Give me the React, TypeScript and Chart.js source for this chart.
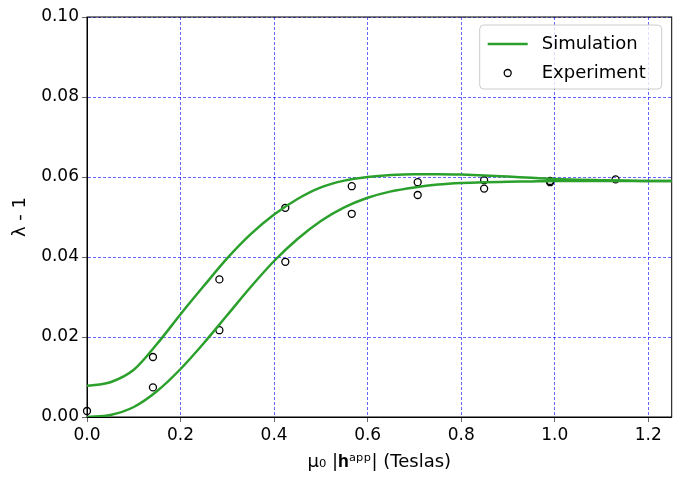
import { useEffect, useRef } from "react";
import Chart from "chart.js/auto";

const simX = [0, 0.05, 0.1, 0.15, 0.2, 0.25, 0.3, 0.35, 0.4, 0.45, 0.5, 0.55, 0.6, 0.65, 0.7, 0.75, 0.8, 0.85, 0.9, 0.95, 1.0, 1.05, 1.1, 1.15, 1.2, 1.25];
const simUpper = [0.0078, 0.0087, 0.0118, 0.0183, 0.0257, 0.0328, 0.0397, 0.0457, 0.0506, 0.0545, 0.0574, 0.0591, 0.06, 0.0605, 0.0607, 0.0607, 0.0606, 0.0604, 0.0601, 0.0598, 0.0595, 0.0593, 0.0592, 0.0591, 0.059, 0.059];
const simLower = [0, 0.0005, 0.0025, 0.0065, 0.012, 0.0185, 0.0255, 0.0325, 0.039, 0.0445, 0.049, 0.0524, 0.0548, 0.0564, 0.0574, 0.0581, 0.0585, 0.0587, 0.0588, 0.0589, 0.059, 0.059, 0.059, 0.059, 0.059, 0.059];
const expX = [0, 0.141, 0.283, 0.424, 0.566, 0.707, 0.849, 0.99, 1.13];
const expUpper = [0.0015, 0.015, 0.0344, 0.0523, 0.0577, 0.0587, 0.0592, 0.059, 0.0594];
const expLowerX = [0.141, 0.283, 0.424, 0.566, 0.707, 0.849, 0.99];
const expLower = [0.0074, 0.0217, 0.0388, 0.0508, 0.0555, 0.0571, 0.0587];
const xTicks = [0, 0.2, 0.4, 0.6, 0.8, 1.0, 1.2];

const font = "DejaVu Sans";
const green = "#2ca02c";

const legendPlugin = {
  id: "boxLegend",
  afterDraw(chart: any) {
    const { ctx, chartArea } = chart;
    const w = 182, h = 64;
    const x = chartArea.right - w - 10, y = chartArea.top + 8;
    ctx.save();
    ctx.fillStyle = "rgba(255,255,255,0.8)";
    ctx.strokeStyle = "#cccccc";
    ctx.lineWidth = 1;
    ctx.beginPath();
    ctx.roundRect(x, y, w, h, 4);
    ctx.fill();
    ctx.stroke();
    ctx.strokeStyle = green;
    ctx.lineWidth = 2.5;
    ctx.beginPath();
    ctx.moveTo(x + 8, y + 19);
    ctx.lineTo(x + 48, y + 19);
    ctx.stroke();
    ctx.strokeStyle = "#000";
    ctx.lineWidth = 1.3;
    ctx.beginPath();
    ctx.arc(x + 28, y + 48, 3.5, 0, Math.PI * 2);
    ctx.stroke();
    ctx.fillStyle = "#000";
    ctx.font = `18px "${font}"`;
    ctx.textBaseline = "middle";
    ctx.fillText("Simulation", x + 62, y + 19);
    ctx.fillText("Experiment", x + 62, y + 48);
    ctx.restore();
  },
};

const toPts = (xs: number[], ys: number[]) => xs.map((x, i) => ({ x, y: ys[i] }));

export default function App() {
  const ref = useRef<HTMLCanvasElement>(null);

  useEffect(() => {
    let chart: Chart | undefined;
    if (ref.current) {
      const line = (data: number[]) => ({
        type: "line" as const,
        data: toPts(simX, data),
        borderColor: green,
        borderWidth: 2.5,
        pointRadius: 0,
        cubicInterpolationMode: "monotone" as const,
      });
      const scatter = (xs: number[], ys: number[]) => ({
        type: "scatter" as const,
        data: toPts(xs, ys),
        borderColor: "#000",
        backgroundColor: "rgba(0,0,0,0)",
        borderWidth: 1.3,
        pointRadius: 3.5,
        clip: false as const,
      });
      chart = new Chart(ref.current, {
        type: "scatter",
        data: {
          datasets: [
            line(simUpper),
            line(simLower),
            scatter(expX, expUpper),
            scatter(expLowerX, expLower),
          ] as any,
        },
        options: {
          animation: false,
          responsive: false,
          layout: { padding: { top: 17, right: 2, left: 6, bottom: 0 } },
          plugins: { legend: { display: false }, tooltip: { enabled: false } },
          scales: {
            x: {
              type: "linear",
              min: 0,
              max: 1.25,
              afterBuildTicks: (s: any) => { s.ticks = xTicks.map((v) => ({ value: v })); },
              afterFit: (s: any) => { s.height = 60; },
              ticks: { color: "#000", font: { family: font, size: 17 }, callback: (v: any) => Number(v).toFixed(1) },
              grid: { color: "blue", lineWidth: 0.6, tickColor: "#000", tickLength: 5 },
              border: { color: "#000", width: 1, dash: [3, 2] },
              title: { display: true, text: "μ₀ |𝐡ᵃᵖᵖ| (Teslas)", color: "#000", font: { family: font, size: 18 }, padding: { top: 0 } },
            },
            y: {
              min: 0,
              max: 0.1,
              afterFit: (s: any) => { s.width = 81; },
              ticks: { stepSize: 0.02, color: "#000", font: { family: font, size: 17 }, callback: (v: any) => Number(v).toFixed(2) },
              grid: { color: "blue", lineWidth: 0.6, tickColor: "#000", tickLength: 5 },
              border: { color: "#000", width: 1, dash: [3, 2] },
              title: { display: true, text: "λ - 1", color: "#000", font: { family: font, size: 18 } },
            },
          },
        },
        plugins: [
          {
            id: "frame",
            beforeDatasetsDraw(c: any) {
              const { ctx, chartArea: a } = c;
              ctx.save();
              ctx.setLineDash([]);
              ctx.strokeStyle = "#000";
              ctx.lineWidth = 1;
              ctx.strokeRect(a.left, a.top, a.right - a.left, a.bottom - a.top);
              ctx.restore();
            },
          },
          legendPlugin,
        ],
      });
    }
    return () => {
      chart?.destroy();
    };
  }, []);

  return (
    <div style={{ position: "fixed", left: 0, top: 0, width: 677, height: 477, background: "#fff" }}>
      <canvas ref={ref} width={677} height={477} />
    </div>
  );
}
